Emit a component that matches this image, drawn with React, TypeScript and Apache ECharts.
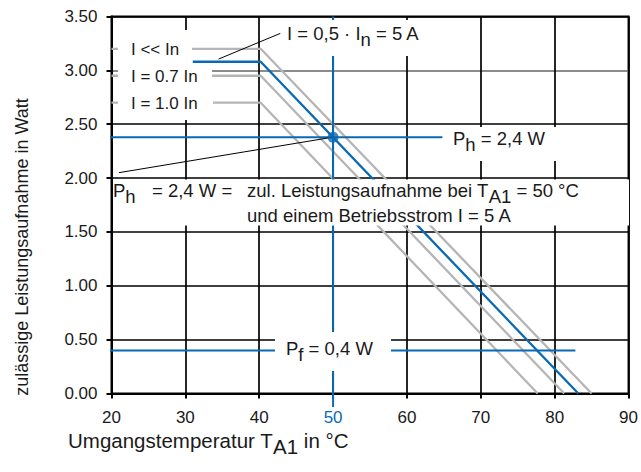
import React, { useEffect, useRef } from 'react';
import * as echarts from 'echarts';

const BLUE = '#0a69b4';
const GRAY = '#b5b5b5';
const INK = '#1a1a1a';
const FONT = '"Liberation Sans", Arial, Helvetica, sans-serif';

// axis ranges / ticks
const xMin = 20;
const xMax = 90;
const xStep = 10;
const yMin = 0;
const yMax = 3.5;
const yStep = 0.5;
const highlightTemp = 50;

// derating curves: [ambient temperature °C, permissible power W]
const curveIllIn: [number, number][] = [[20, 3.2], [40.2, 3.2], [85.0, 0]];
const curve05In: [number, number][] = [[31, 3.08], [40.2, 3.08], [83.2, 0]];
const curve07In: [number, number][] = [[20, 2.95], [40.2, 2.95], [81.3, 0]];
const curve10In: [number, number][] = [[20, 2.7], [40.2, 2.7], [77.7, 0]];

// reference lines
const phPoint: [number, number] = [50, 2.38];
const phLine: [number, number][] = [[18.45, 2.38], [64.8, 2.38]];
const pfLine: [number, number][] = [[19.25, 0.4], [82.8, 0.4]];
const t50Line: [number, number][] = [[50, 3.5], [50, -0.125]];
const leaderPh: [number, number][] = [[21.0, 2.05], [50, 2.38]];
const leader05: [number, number][] = [[34.5, 3.105], [42.85, 3.343]];

const F = 18.5;
const D = 6;

function makeRich(size: number) {
  return {
    n: { fontSize: size, fontFamily: FONT, fill: INK, padding: [0, 0, D, 0] },
    s: { fontSize: size, fontFamily: FONT, fill: INK, padding: [D, 0, 0, 0] },
  };
}

function txt(text: string, x: number, y: number, opts: any = {}) {
  const size = opts.fontSize || F;
  return {
    type: 'text',
    x,
    y,
    z: 60,
    rotation: opts.rotation || 0,
    style: {
      text,
      fill: INK,
      fontSize: size,
      fontFamily: FONT,
      align: opts.align || 'left',
      verticalAlign: 'middle',
      rich: makeRich(size),
    },
  };
}

function box(x: number, y: number, w: number, h: number) {
  return {
    type: 'rect',
    z: 50,
    shape: { x, y, width: w, height: h },
    style: { fill: '#ffffff' },
  };
}

function line(data: [number, number][], color: string, width: number, z = 3) {
  return {
    type: 'line',
    data,
    symbol: 'none',
    clip: false,
    silent: true,
    z,
    lineStyle: { color, width },
  };
}

export default function App() {
  const ref = useRef<HTMLDivElement>(null);
  useEffect(() => {
    const chart = echarts.init(ref.current!, undefined, { renderer: 'svg' });
    chart.setOption({
      animation: false,
      backgroundColor: '#ffffff',
      grid: {
        left: 111.5,
        top: 16.5,
        width: 519.5,
        height: 377,
        show: true,
        borderColor: '#000',
        borderWidth: 2,
      },
      xAxis: {
        type: 'value',
        min: xMin,
        max: xMax,
        interval: xStep,
        axisLine: { show: true, lineStyle: { color: '#000', width: 2 } },
        axisTick: { show: true, length: 5, lineStyle: { color: '#000', width: 2 } },
        axisLabel: {
          margin: 15,
          fontSize: 17,
          fontFamily: FONT,
          color: (v: any) => (Number(v) === highlightTemp ? BLUE : INK),
        },
        splitLine: { show: true, lineStyle: { color: '#000', width: 1.7 } },
      },
      yAxis: {
        type: 'value',
        min: yMin,
        max: yMax,
        interval: yStep,
        axisLine: { show: true, lineStyle: { color: '#000', width: 2 } },
        axisTick: { show: true, length: 5, lineStyle: { color: '#000', width: 2 } },
        axisLabel: {
          margin: 14,
          fontSize: 17,
          fontFamily: FONT,
          color: INK,
          formatter: (v: number) => v.toFixed(2),
        },
        splitLine: {
          show: true,
          lineStyle: { color: ['#000', '#000', '#000', '#000', '#000', '#000', '#666', '#000'], width: 1.7 },
        },
      },
      series: [
        line(curveIllIn, GRAY, 2.3),
        line(curve07In, GRAY, 2.3),
        line(curve10In, GRAY, 2.3),
        line(curve05In, BLUE, 2.3, 4),
        line(phLine, BLUE, 2, 4),
        line(pfLine, BLUE, 2, 4),
        line(t50Line, BLUE, 2, 4),
        line(leaderPh, '#000', 1, 5),
        line(leader05, '#000', 1, 5),
        {
          type: 'scatter',
          data: [phPoint],
          symbolSize: 11,
          itemStyle: { color: BLUE },
          z: 6,
          silent: true,
        },
      ],
      graphic: [
        box(118, 30, 74, 33),
        box(118, 63, 94, 27),
        box(118, 90, 95, 30),
        box(282, 20, 150, 36),
        box(446, 127, 166, 34),
        box(113, 179.5, 516, 46),
        box(275, 332, 116, 39),
        txt('I << In', 131, 49, { fontSize: 17 }),
        txt('I = 0.7 In', 131, 76, { fontSize: 17 }),
        txt('I = 1.0 In', 131, 103, { fontSize: 17 }),
        txt('{n|I = 0,5 · I}{s|n}{n| = 5 A}', 287, 33 + D / 2),
        txt('{n|P}{s|h}{n| = 2,4 W}', 453, 138 + D / 2),
        txt('{n|P}{s|h}', 113, 190 + D / 2),
        txt('= 2,4 W =', 152, 190),
        txt('{n|zul. Leistungsaufnahme bei T}{s|A1}{n| = 50 °C}', 247, 190 + D / 2),
        txt('und einem Betriebsstrom I = 5 A', 247, 215),
        txt('{n|P}{s|f}{n| = 0,4 W}', 286, 348 + D / 2),
        txt('{n|Umgangstemperatur T}{s|A1}{n| in °C}', 68, 440 + D / 2, { fontSize: 20.5 }),
        txt('zulässige Leistungsaufnahme in Watt', 22, 247, { rotation: Math.PI / 2, align: 'center', fontSize: 18 }),
      ],
    });
    return () => chart.dispose();
  }, []);
  return (
    <div
      ref={ref}
      style={{ position: 'absolute', left: 0, top: 0, width: 641, height: 472, background: '#fff' }}
    />
  );
}
